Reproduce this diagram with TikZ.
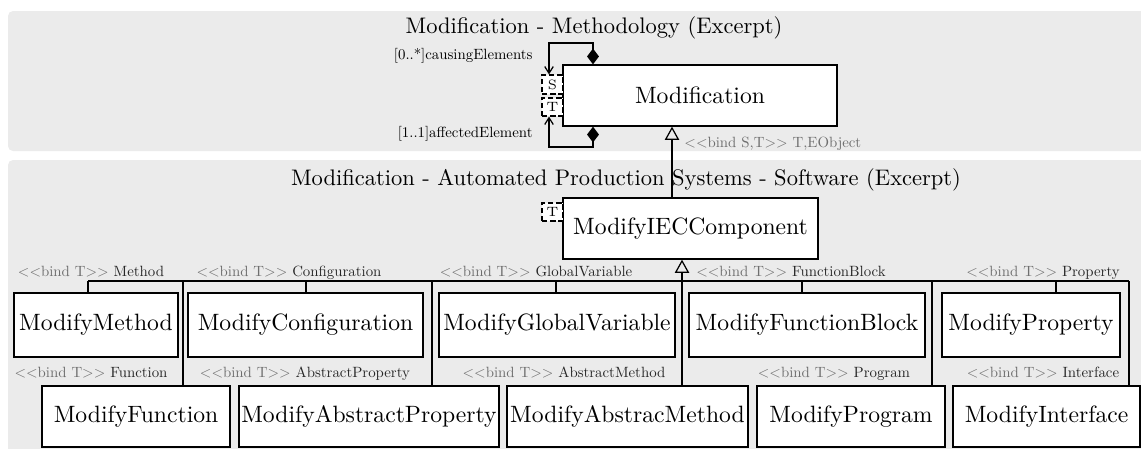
\documentclass[tikz,border=0pt]{standalone}
\usepackage{graphicx}
\usepackage{tikz}
\usetikzlibrary{arrows.meta,calc}
\definecolor{PanelGray}{HTML}{EBEBEB}
\definecolor{BindGray}{HTML}{6E6E6E}
\newcommand{\pxw}{0.4444pt}
\newcommand{\smalltxt}[1]{\scalebox{0.66}{#1}}
\newcommand{\bindT}[1]{\smalltxt{\textcolor{BindGray}{$<<$bind T$>>$} \textcolor{black!85}{#1}}}
\tikzset{wh/.style 2 args={minimum width=#1*\pxw, minimum height=#2*\pxw}}

\begin{document}
\begin{tikzpicture}[x=\pxw, y=-\pxw, font=\fontsize{10.5}{12.6}\selectfont,
  panel/.style={fill=PanelGray, rounded corners=2.2pt},
  cls/.style={draw, line width=0.6pt, fill=white, inner sep=0pt},
  tpar/.style={draw, line width=0.5pt, dash pattern=on 2.4pt off 1.2pt, fill=white, inner sep=0pt,
               font=\fontsize{6}{7}\selectfont},
  ttl/.style={anchor=base, font=\fontsize{10}{12}\selectfont},
  lbl/.style={anchor=base, inner sep=0pt, font=\fontsize{10}{12}\selectfont},
  lnk/.style={line width=0.55pt},
  inh/.style={lnk, -{Triangle[open, length=5.9pt, width=6.4pt]}},
  comp/.style={lnk, {Diamond[length=7pt, width=5.3pt]}-{Straight Barb[length=3pt, width=3.8pt]}}]
\useasboundingbox (0,0) rectangle (1141,448);
\clip (0,0) rectangle (1141,448);
\fill[panel] (8,11) rectangle (1170,151);
\fill[panel] (8,160) rectangle (1170,480);
\node[ttl] (t1) at (594,33) {Modification - Methodology (Excerpt)};
\node[ttl] (t2) at (626,185) {Modification - Automated Production Systems - Software (Excerpt)};

\node[cls, wh={274}{61}] (mod) at (700,95.5) {Modification};
\node[tpar, wh={21}{19}] (sb) at (552.5,84.5) {S};
\node[tpar, wh={21}{18}] (tb) at (552.5,107) {T};
\node[cls, wh={255}{61}] (iec) at (690.5,228.5) {ModifyIECComponent};
\node[tpar, wh={21}{18}] (it) at (552.5,212) {T};

\node[cls, wh={164}{64}] (mm) at (96,325) {ModifyMethod};
\node[cls, wh={235}{64}] (mc) at (305.5,325) {ModifyConfiguration};
\node[cls, wh={236}{64}] (mg) at (557,325) {ModifyGlobalVariable};
\node[cls, wh={236}{64}] (mfb) at (807,325) {ModifyFunctionBlock};
\node[cls, wh={178}{64}] (mp) at (1031,325) {ModifyProperty};
\node[cls, wh={188}{61}] (mf) at (136,416.5) {ModifyFunction};
\node[cls, wh={260}{61}] (map) at (369,416.5) {ModifyAbstractProperty};
\node[cls, wh={241}{61}] (mam) at (627.5,416.5) {ModifyAbstracMethod};
\node[cls, wh={188}{61}] (mpg) at (851,416.5) {ModifyProgram};
\node[cls, wh={187}{61}] (mi) at (1046.5,416.5) {ModifyInterface};

\node[lbl, anchor=base east] (lc) at (533,59) {\smalltxt{[0..*]causingElements}};
\node[lbl, anchor=base east] (la) at (533,137) {\smalltxt{[1..1]affectedElement}};
\node[lbl, anchor=base west] (lg) at (684,147) {\smalltxt{\textcolor{BindGray}{$<<$bind S,T$>>$ T,EObject}}};
\node[lbl] (lmm) at (91,276) {\bindT{Method}};
\node[lbl] (lmc) at (289,276) {\bindT{Configuration}};
\node[lbl] (lmg) at (536,276) {\bindT{GlobalVariable}};
\node[lbl] (lmfb) at (791,276) {\bindT{FunctionBlock}};
\node[lbl] (lmp) at (1043,276) {\bindT{Property}};
\node[lbl] (lmf) at (91,377) {\bindT{Function}};
\node[lbl] (lmap) at (305,377) {\bindT{AbstractProperty}};
\node[lbl] (lmam) at (564,377) {\bindT{AbstractMethod}};
\node[lbl] (lmpg) at (834,377) {\bindT{Program}};
\node[lbl] (lmi) at (1043,377) {\bindT{Interface}};

\coordinate (cTop) at (593,43);
\coordinate (cBend) at (549,43);
\coordinate (aTop) at (593,147);
\coordinate (aBend) at (549,147);
\draw[comp] (cTop |- mod.north) -- (cTop) -- (cBend) -- (cBend |- sb.north);
\draw[comp] (aTop |- mod.south) -- (aTop) -- (aBend) -- (aBend |- tb.south);
\coordinate (gen) at (672,160);
\draw[inh] (gen |- iec.north) -- (gen |- mod.south);

\coordinate (fmam) at (682,281);
\draw[inh] (fmam |- mam.north) -- (fmam |- iec.south);
\coordinate (busL) at (88,281);
\coordinate (busR) at (1129,281);
\draw[lnk] (busL) -- (busR);
\foreach \n/\x in {mm/88, mc/306, mg/556, mfb/802, mp/1056, mf/183, map/432, mpg/932, mi/1129}{
  \coordinate (f\n) at (\x,281);
  \draw[lnk] (f\n) -- (f\n |- \n.north);
}
\end{tikzpicture}
\end{document}
